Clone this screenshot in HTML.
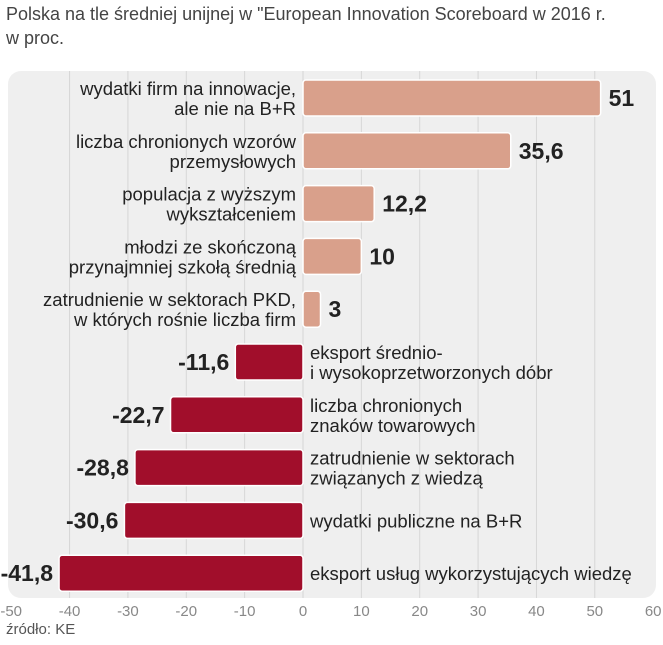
<!DOCTYPE html>
<html><head><meta charset="utf-8"><style>
body{margin:0;background:#fff;width:663px;height:640px;overflow:hidden;font-family:"Liberation Sans",sans-serif}
svg text{font-family:"Liberation Sans",sans-serif}
</style></head><body>
<svg width="663" height="640">
<text x="6" y="20" font-size="18" fill="#444">Polska na tle średniej unijnej w "European Innovation Scoreboard w 2016 r.</text>
<text x="6" y="44" font-size="18" fill="#444">w proc.</text>
<rect x="8" y="71" width="648" height="527" rx="13" fill="#efefef"/>
<g id="grid"></g><g id="bars"></g><g id="ticks"></g>
<text x="6" y="634" font-size="15" fill="#555">źródło: KE</text>
</svg>
<script>
const categories=[["wydatki firm na innowacje,","ale nie na B+R"],["liczba chronionych wzorów","przemysłowych"],["populacja z wyższym","wykształceniem"],["młodzi ze skończoną","przynajmniej szkołą średnią"],["zatrudnienie w sektorach PKD,","w których rośnie liczba firm"],["eksport średnio-","i wysokoprzetworzonych dóbr"],["liczba chronionych","znaków towarowych"],["zatrudnienie w sektorach","związanych z wiedzą"],["wydatki publiczne na B+R"],["eksport usług wykorzystujących wiedzę"]];
const values=[51,35.6,12.2,10,3,-11.6,-22.7,-28.8,-30.6,-41.8];
const valueLabels=["51","35,6","12,2","10","3","-11,6","-22,7","-28,8","-30,6","-41,8"];
const tickValues=[-50,-40,-30,-20,-10,0,10,20,30,40,50,60];
const NS="http://www.w3.org/2000/svg";
const x=v=>303+v*5.836;
const rowC=i=>98+i*52.8;
function mk(t,a,p){const e=document.createElementNS(NS,t);for(const k in a)e.setAttribute(k,a[k]);p.appendChild(e);return e;}
const G=document.getElementById('grid'),B=document.getElementById('bars'),T=document.getElementById('ticks');
tickValues.forEach(v=>{
 if(v>-50&&v<60){const l=mk('line',{x1:x(v),x2:x(v),y1:71,y2:598,stroke:'#d6d6d6','stroke-width':1},G);
 
 }
 const t=mk('text',{x:x(v),y:616,'text-anchor':'middle','font-size':15,fill:'#888'},T);t.textContent=v;
 
 
});
values.forEach((v,i)=>{
 const c=rowC(i),pos=v>=0;
 const r=mk('rect',{x:Math.min(x(0),x(v)),y:c-18,width:Math.abs(x(v)-x(0)),height:36,rx:3,fill:pos?'#d9a08b':'#a10e2b',stroke:'#fff','stroke-width':1.5},B);
 
 
 const vl=mk('text',{x:pos?x(v)+8:x(v)-6,y:c+8,'text-anchor':pos?'start':'end','font-size':23,'font-weight':'bold',fill:'#222'},B);vl.textContent=valueLabels[i];
 
 
 const lines=categories[i];
 lines.forEach((s,j)=>{
  const yy=lines.length===1?c+7:c-3+j*20;
  const t=mk('text',{x:pos?x(0)-7:x(0)+7,y:yy,'text-anchor':pos?'end':'start','font-size':18.5,fill:'#222'},B);t.textContent=s;
  
  
 });
});
</script>
</body></html>
